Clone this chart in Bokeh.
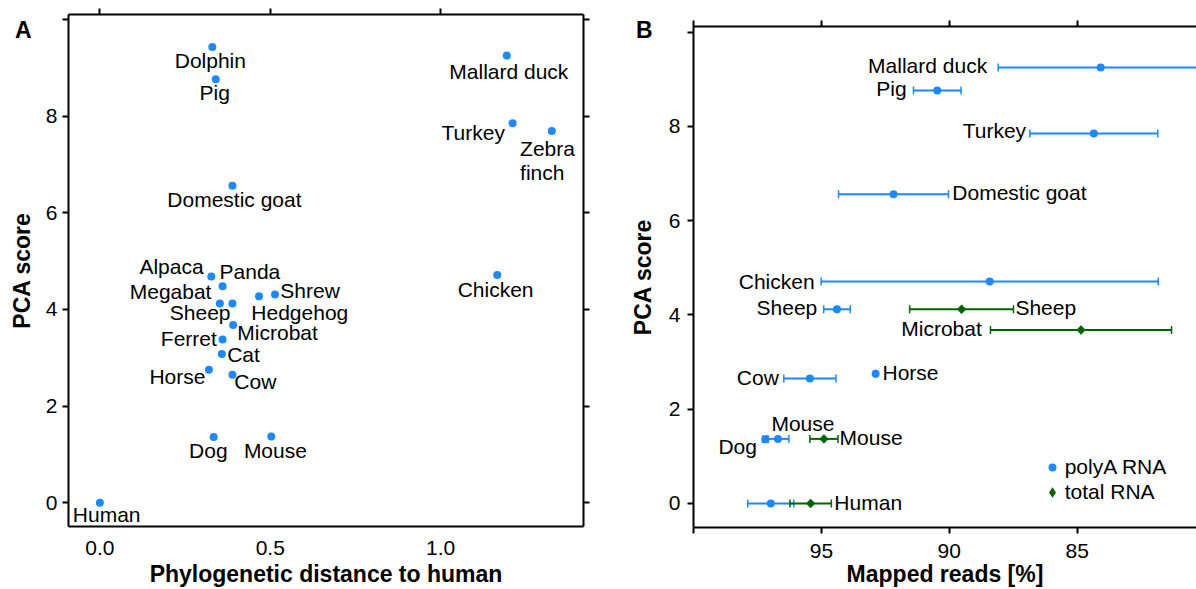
from bokeh.plotting import figure
from bokeh.models import (Range1d, LinearAxis, FixedTicker, Whisker, TeeHead,
                          ColumnDataSource, Legend, LegendItem)
from bokeh.layouts import row
from bokeh.embed import file_html
from bokeh.resources import INLINE
from bokeh.core.properties import value
import math

FONT = "Liberation Sans"
BLUE = "#1E88FF"
GREEN = "#006400"

# ---------------- Panel A data ----------------
species_a = ["Dolphin", "Pig", "Domestic goat", "Mallard duck", "Turkey", "Zebra finch",
             "Chicken", "Alpaca", "Panda", "Megabat", "Sheep", "Hedgehog", "Shrew",
             "Microbat", "Ferret", "Cat", "Horse", "Cow", "Dog", "Mouse", "Human"]
phylo_dist = [0.330, 0.340, 0.389, 1.194, 1.211, 1.326,
              1.166, 0.327, 0.360, 0.352, 0.389, 0.467, 0.514,
              0.391, 0.360, 0.358, 0.320, 0.389, 0.334, 0.503, 0.000]
pca_score = [9.43, 8.76, 6.56, 9.25, 7.85, 7.69,
             4.71, 4.68, 4.48, 4.12, 4.12, 4.27, 4.31,
             3.68, 3.38, 3.08, 2.75, 2.65, 1.36, 1.37, 0.00]

# label placement style for panel A (align, dx px, dy px down)
label_style_a = {
    "Dolphin": ("center", -2, 22), "Pig": ("center", -1, 21.5),
    "Domestic goat": ("center", 2, 22), "Mallard duck": ("center", 2, 24),
    "Turkey": ("right", -7.7, 17.4), "Zebra finch": ("left", -31.7, 25),
    "Chicken": ("center", -1.7, 22), "Alpaca": ("right", -7.7, -2.3),
    "Panda": ("left", -3, -6.7), "Megabat": ("right", -8.4, -4.6),
    "Shrew": ("left", 5.3, 4), "Sheep": ("right", -1.9, 16.7),
    "Hedgehog": ("left", -7.7, 24), "Microbat": ("left", 4.2, 15.7),
    "Ferret": ("right", -5.7, 6.7), "Cat": ("left", 5.3, 9),
    "Horse": ("right", -3.5, 15), "Cow": ("left", 1.9, 15),
    "Dog": ("center", -5.4, 21.6), "Mouse": ("center", 4.1, 22.3),
    "Human": ("center", 6.8, 20),
}
multiline = {"Zebra finch": ["Zebra", "finch"]}

# ---------------- Panel B data ----------------
species_poly = ["Mallard duck", "Pig", "Turkey", "Domestic goat", "Chicken", "Sheep",
                "Horse", "Cow", "Dog", "Mouse", "Human"]
mapped_poly = [84.08, 90.47, 84.35, 92.18, 88.42, 94.39, 92.88, 95.45, 97.19, 96.70, 96.98]
err_poly = [4.01, 0.93, 2.50, 2.15, 6.59, 0.52, 0.00, 1.02, 0.11, 0.43, 0.90]

species_total = ["Sheep", "Microbat", "Mouse", "Human"]
mapped_total = [89.52, 84.85, 94.90, 95.42]
err_total = [2.03, 3.54, 0.55, 0.81]

score_of = dict(zip(species_a, pca_score))

# label placement style for panel B: (anchor, align, dx, dy)
label_style_poly = {
    "Mallard duck": ("lo", "right", -11, 5.7), "Pig": ("lo", "right", -6.8, 5.7),
    "Turkey": ("lo", "right", -3.8, 5.3), "Domestic goat": ("hi", "left", 3.8, 6),
    "Chicken": ("lo", "right", -6.5, 7.7), "Sheep": ("lo", "right", -6.4, 6),
    "Horse": ("pt", "left", 6.9, 6.7), "Cow": ("lo", "right", -5, 7),
    "Dog": ("pt", "right", -8.4, 15), "Mouse": ("pt", "center", 25, -7.3),
}
label_style_total = {
    "Sheep": ("hi", "left", 1.9, 6), "Microbat": ("lo", "right", -8.7, 6.4),
    "Mouse": ("hi", "left", 1.5, 7), "Human": ("hi", "left", 3, 7.3),
}

DY_FIX = -8  # text glyph baseline correction (px)


def style_axis(ax, ticks, tick_out, labels=True, overrides=None, standoff=5):
    ax.ticker = FixedTicker(ticks=ticks)
    ax.minor_tick_line_color = None
    ax.major_tick_in = 0
    ax.major_tick_out = tick_out
    ax.major_tick_line_width = 2
    ax.major_tick_line_color = "black"
    ax.axis_line_width = 2
    ax.axis_line_color = "black"
    ax.major_label_standoff = standoff
    ax.major_label_text_font = FONT
    ax.major_label_text_color = "black"
    ax.major_label_text_font_size = "21px"
    if not labels:
        ax.major_label_text_color = None
        ax.major_label_text_font_size = "1px"
        ax.major_label_standoff = 0
    if overrides:
        ax.major_label_overrides = overrides
    ax.axis_label_text_font = FONT
    ax.axis_label_text_font_style = "bold"
    ax.axis_label_text_font_size = "23px"
    ax.axis_label_text_color = "black"


def panel_letter_axis(p, letter, at, standoff):
    """Bold panel letter, drawn as the single tick label of a bare outer left axis."""
    ax = LinearAxis()
    ax.ticker = FixedTicker(ticks=[at])
    ax.major_label_overrides = {at: letter}
    ax.axis_line_color = None
    ax.major_tick_line_color = None
    ax.minor_tick_line_color = None
    ax.major_tick_out = 0
    ax.major_tick_in = 0
    ax.major_label_standoff = standoff
    ax.major_label_text_font = FONT
    ax.major_label_text_font_style = "bold"
    ax.major_label_text_font_size = "23px"
    ax.major_label_text_color = "black"
    p.add_layout(ax, "left")


def add_texts(p, xs, ys, texts, aligns, dxs, dys):
    for al in ("left", "center", "right"):
        idx = [i for i in range(len(texts)) if aligns[i] == al]
        if not idx:
            continue
        src = ColumnDataSource(dict(
            x=[xs[i] for i in idx], y=[ys[i] for i in idx], t=[texts[i] for i in idx],
            dx=[dxs[i] for i in idx], dy=[dys[i] + DY_FIX for i in idx]))
        p.text(x="x", y="y", text="t", x_offset="dx", y_offset="dy", source=src,
               text_align=al, text_baseline="alphabetic", text_font=value(FONT),
               text_font_size="21px", text_color="black")


def base_fig(**kw):
    p = figure(output_backend="svg", toolbar_location=None, **kw)
    p.grid.visible = False
    p.outline_line_color = None
    p.background_fill_color = "white"
    p.border_fill_color = "white"
    if "frame_align" in p.properties():
        p.frame_align = False
    return p


# ================= Panel A =================
pa = base_fig(width=620, height=589, x_range=Range1d(-0.092, 1.419),
              y_range=Range1d(-0.49, 10.10),
              min_border_left=68, min_border_right=37, min_border_top=14, min_border_bottom=63)

style_axis(pa.xaxis[0], [0, 0.5, 1.0], 6, standoff=8)
pa.xaxis[0].major_tick_line_color = None
pa.xaxis[0].major_label_overrides = {0: "0.0", 0.5: "0.5", 1: "1.0"}
pa.xaxis[0].axis_label = "Phylogenetic distance to human"
pa.xaxis[0].axis_label_standoff = 3
style_axis(pa.yaxis[0], [0, 2, 4, 6, 8, 10], 6, overrides={10: ""}, standoff=5)
pa.yaxis[0].axis_label = "PCA score"
pa.yaxis[0].axis_label_standoff = 8
top_a = LinearAxis()
style_axis(top_a, [0, 0.5, 1.0], 6, labels=False)
pa.add_layout(top_a, "above")
right_a = LinearAxis()
style_axis(right_a, [0, 2, 4, 6, 8, 10], 6, labels=False)
pa.add_layout(right_a, "right")
panel_letter_axis(pa, "A", 9.78, -26)

pa.scatter(phylo_dist, pca_score, size=8, color=BLUE, line_color=None)

xs, ys, ts, als, dxs, dys = [], [], [], [], [], []
for sp, xv, yv in zip(species_a, phylo_dist, pca_score):
    al, dx, dy = label_style_a[sp]
    lines = multiline.get(sp, [sp])
    for k, ln in enumerate(lines):
        xs.append(xv); ys.append(yv); ts.append(ln); als.append(al)
        dxs.append(dx); dys.append(dy + 24 * k)
add_texts(pa, xs, ys, ts, als, dxs, dys)

# ================= Panel B =================
pb = base_fig(width=576, height=589, x_range=Range1d(100, 80.336),
              y_range=Range1d(-0.51, 10.12),
              min_border_left=73, min_border_right=0, min_border_top=26, min_border_bottom=62)

style_axis(pb.xaxis[0], [100, 95, 90, 85, 80], 6, overrides={100: ""}, standoff=10)
pb.xaxis[0].axis_label = "Mapped reads [%]"
pb.xaxis[0].axis_label_standoff = 0
style_axis(pb.yaxis[0], [0, 2, 4, 6, 8, 10], 6, overrides={10: ""}, standoff=7)
pb.yaxis[0].axis_label = "PCA score"
pb.yaxis[0].axis_label_standoff = 10
top_b = LinearAxis()
style_axis(top_b, [100, 95, 90, 85, 80], 6, labels=False)
pb.add_layout(top_b, "above")
panel_letter_axis(pb, "B", 10.04, -26)

pca_poly = [score_of[s] for s in species_poly]
pca_total = [score_of[s] for s in species_total]

src_poly = ColumnDataSource(dict(
    x=mapped_poly, y=pca_poly,
    lo=[m - e for m, e in zip(mapped_poly, err_poly)],
    hi=[m + e for m, e in zip(mapped_poly, err_poly)]))
src_total = ColumnDataSource(dict(
    x=mapped_total, y=pca_total,
    lo=[m - e for m, e in zip(mapped_total, err_total)],
    hi=[m + e for m, e in zip(mapped_total, err_total)]))

for src, col in ((src_poly, BLUE), (src_total, GREEN)):
    pb.add_layout(Whisker(source=src, base="y", lower="lo", upper="hi", dimension="width",
                          line_color=col, line_width=2,
                          lower_head=TeeHead(size=8, line_color=col, line_width=1.5),
                          upper_head=TeeHead(size=8, line_color=col, line_width=1.5)))

r_poly = pb.scatter("x", "y", source=src_poly, size=8, color=BLUE, line_color=None)
# diamond marks (also used as legend key; legend keys are drawn unrotated)
r_total_key = pb.scatter("x", "y", source=src_total, marker="diamond", size=9,
                         color=GREEN, line_color=None)
r_total = pb.scatter("x", "y", source=src_total, marker="square", angle=math.pi / 4,
                     size=6.6, color=GREEN, line_color=None)


def b_labels(species, mapped, err, pcas, style):
    xs, ys, ts, als, dxs, dys = [], [], [], [], [], []
    for sp, m, e, yv in zip(species, mapped, err, pcas):
        if sp not in style:
            continue
        anchor, al, dx, dy = style[sp]
        xv = m + e if anchor == "lo" else (m - e if anchor == "hi" else m)
        xs.append(xv); ys.append(yv); ts.append(sp); als.append(al)
        dxs.append(dx); dys.append(dy)
    add_texts(pb, xs, ys, ts, als, dxs, dys)


b_labels(species_poly, mapped_poly, err_poly, pca_poly, label_style_poly)
b_labels(species_total, mapped_total, err_total, pca_total, label_style_total)

leg_common = dict(orientation="vertical", border_line_color=None, background_fill_alpha=0,
                  padding=0, margin=0, spacing=0, label_text_font=FONT,
                  label_text_font_size="21px", label_text_color="black")
legend1 = Legend(items=[LegendItem(label="polyA RNA", renderers=[r_poly])],
                 location=(348.7, 48.3), glyph_width=20, glyph_height=20,
                 label_standoff=3, label_height=20, **leg_common)
legend2 = Legend(items=[LegendItem(label="total RNA", renderers=[r_total_key])],
                 location=(345.7, 22.3), glyph_width=26, glyph_height=26,
                 label_standoff=0, label_height=20, **leg_common)
pb.add_layout(legend1, "center")
pb.add_layout(legend2, "center")

layout = row(pa, pb, spacing=0)
open("out.html", "w").write(file_html(layout, INLINE))
